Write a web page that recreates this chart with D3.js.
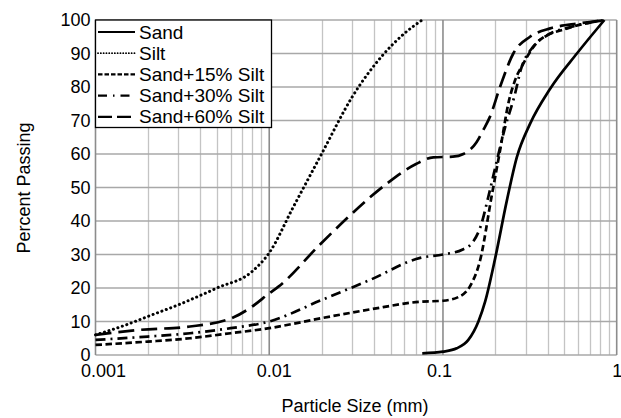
<!DOCTYPE html>
<html><head><meta charset="utf-8">
<script src="https://cdn.jsdelivr.net/npm/d3@7"></script>
<style>body{margin:0;background:#fff}svg{display:block;font-family:"Liberation Sans",Arial,sans-serif}</style>
</head><body><svg id="c" width="621" height="418"></svg>
<script>
const seriesNames = ["Sand","Silt","Sand+15% Silt","Sand+30% Silt","Sand+60% Silt"];
const sandSize = [0.076,0.1,0.12,0.14,0.16,0.175,0.2,0.233,0.266,0.317,0.414,0.59,0.85];
const sandPass = [0.5,1,2,4.5,10,16,29,46,59,69,79.5,90,100];
const siltSize = [0.001,0.0015,0.002,0.003,0.005,0.008,0.01,0.0137,0.02,0.03,0.045,0.06,0.076];
const siltPass = [6,9,11.5,15,20,25,30.5,44,60,77,89.5,96,100];
const s15Size = [0.001,0.002,0.0035,0.006,0.01,0.02,0.038,0.074,0.1,0.125,0.143,0.164,0.19,0.213,0.24,0.26,0.29,0.36,0.52,0.85];
const s15Pass = [3,4,5,6.5,8,11,13.6,15.9,16.2,17.5,20.5,28.5,47,61,76,82,87,94,97.5,100];
const s30Size = [0.001,0.002,0.0035,0.006,0.01,0.02,0.038,0.074,0.1,0.13,0.15,0.165,0.182,0.2,0.228,0.26,0.28,0.33,0.4,0.55,0.85];
const s30Pass = [4.5,5.5,6.5,8,10,16.4,22.4,29,30,31.5,34,38.5,47,56,68,78,85,92,95.5,98,100];
const s60Size = [0.001,0.0018,0.0035,0.0062,0.008,0.01,0.0113,0.0196,0.028,0.036,0.049,0.07,0.088,0.114,0.131,0.156,0.17,0.186,0.213,0.254,0.317,0.414,0.61,0.85];
const s60Pass = [6,7.5,8.5,11.2,14.5,18.4,20.4,33,40.8,46,51.7,57,59,59.2,60,63.5,67,71,80,90,95,97.5,99,100];
const xTicks = [0.001,0.01,0.1,1];
const yTicks = [0,10,20,30,40,50,60,70,80,90,100];

const svg = d3.select("#c");
const L=95.5, R=616.7, T=20, B=355;
const x = d3.scaleLog().domain([0.001,1]).range([L,R]);
const y = d3.scaleLinear().domain([0,100]).range([B,T]);

// minor grid
const minor=[];
[0.001,0.01,0.1].forEach(d=>{for(let k=2;k<=9;k++)minor.push(d*k);});
svg.append("g").selectAll("line").data(minor).join("line")
  .attr("x1",d=>Math.round(x(d))+0.5).attr("x2",d=>Math.round(x(d))+0.5).attr("y1",T).attr("y2",B)
  .attr("stroke","#c4c4c4").attr("stroke-width",1.3);
svg.append("g").selectAll("line").data(yTicks).join("line")
  .attr("x1",L).attr("x2",R).attr("y1",d=>y(d)).attr("y2",d=>y(d))
  .attr("stroke","#a8a8a8").attr("stroke-width",1.6);
svg.append("g").selectAll("line").data(xTicks).join("line")
  .attr("x1",d=>x(d)).attr("x2",d=>x(d)).attr("y1",T).attr("y2",B)
  .attr("stroke","#8c8c8c").attr("stroke-width",1.6);

// axes
const xLabelShift = {0.001:7.5, 0.01:4.5, 0.1:-4, 1:0};
const xa = svg.append("g").attr("transform",`translate(0,${B})`)
  .call(d3.axisBottom(x).tickValues(xTicks).tickFormat(d=>String(d)).tickSize(0).tickPadding(9));
xa.select(".domain").remove();
xa.selectAll("text").attr("font-size",18).attr("fill","#000").attr("font-family","Liberation Sans, Arial, sans-serif")
  .attr("dx",d=>xLabelShift[d]);
const ya = svg.append("g").attr("transform",`translate(${L},0)`)
  .call(d3.axisLeft(y).tickValues(yTicks).tickSize(0).tickPadding(5));
ya.select(".domain").remove();
ya.selectAll("text").attr("font-size",18).attr("fill","#000").attr("font-family","Liberation Sans, Arial, sans-serif");

svg.append("text").attr("x",355).attr("y",412).attr("text-anchor","middle")
  .attr("font-size",18).text("Particle Size (mm)");
svg.append("text").attr("transform","translate(30,188) rotate(-90)").attr("text-anchor","middle")
  .attr("font-size",18).text("Percent Passing");

const styles = [
  {dash:null, w:2.7, cap:"butt"},
  {dash:"0.1,4.6", w:3, cap:"round"},
  {dash:"6.5,3.5", w:2.7, cap:"butt"},
  {dash:"10,5,2,5", w:2.7, cap:"butt"},
  {dash:"16,7", w:2.7, cap:"butt"}
];
const data = [
  d3.zip(sandSize,sandPass), d3.zip(siltSize,siltPass), d3.zip(s15Size,s15Pass),
  d3.zip(s30Size,s30Pass), d3.zip(s60Size,s60Pass)
];
const line = d3.line().x(d=>x(d[0])).y(d=>y(d[1])).curve(d3.curveMonotoneX);
data.forEach((ser,i)=>{
  svg.append("path").attr("d",line(ser)).attr("fill","none").attr("stroke","#000")
    .attr("stroke-width",styles[i].w).attr("stroke-dasharray",styles[i].dash)
    .attr("stroke-linecap",styles[i].cap).attr("stroke-linejoin","round");
});

// legend
const lg = svg.append("g");
lg.append("rect").attr("x",95.5).attr("y",20).attr("width",176).attr("height",107.5)
  .attr("fill","#fff").attr("stroke","#000").attr("stroke-width",1.3);
seriesNames.forEach((n,i)=>{
  const yy = 32 + i*21.2;
  lg.append("line").attr("x1",98).attr("x2",135).attr("y1",yy).attr("y2",yy)
    .attr("stroke","#000").attr("stroke-width",i===1?1.8:2.2)
    .attr("stroke-dasharray",i===1?"0.1,2.7":(i===2?"4.5,2":(i===3?"9,6,1.5,6":(i===4?"14,5":null))))
    .attr("stroke-linecap",i===1?"round":"butt");
  lg.append("text").attr("x",139).attr("y",yy+6.5).attr("font-size",19).text(n);
});
</script></body></html>
